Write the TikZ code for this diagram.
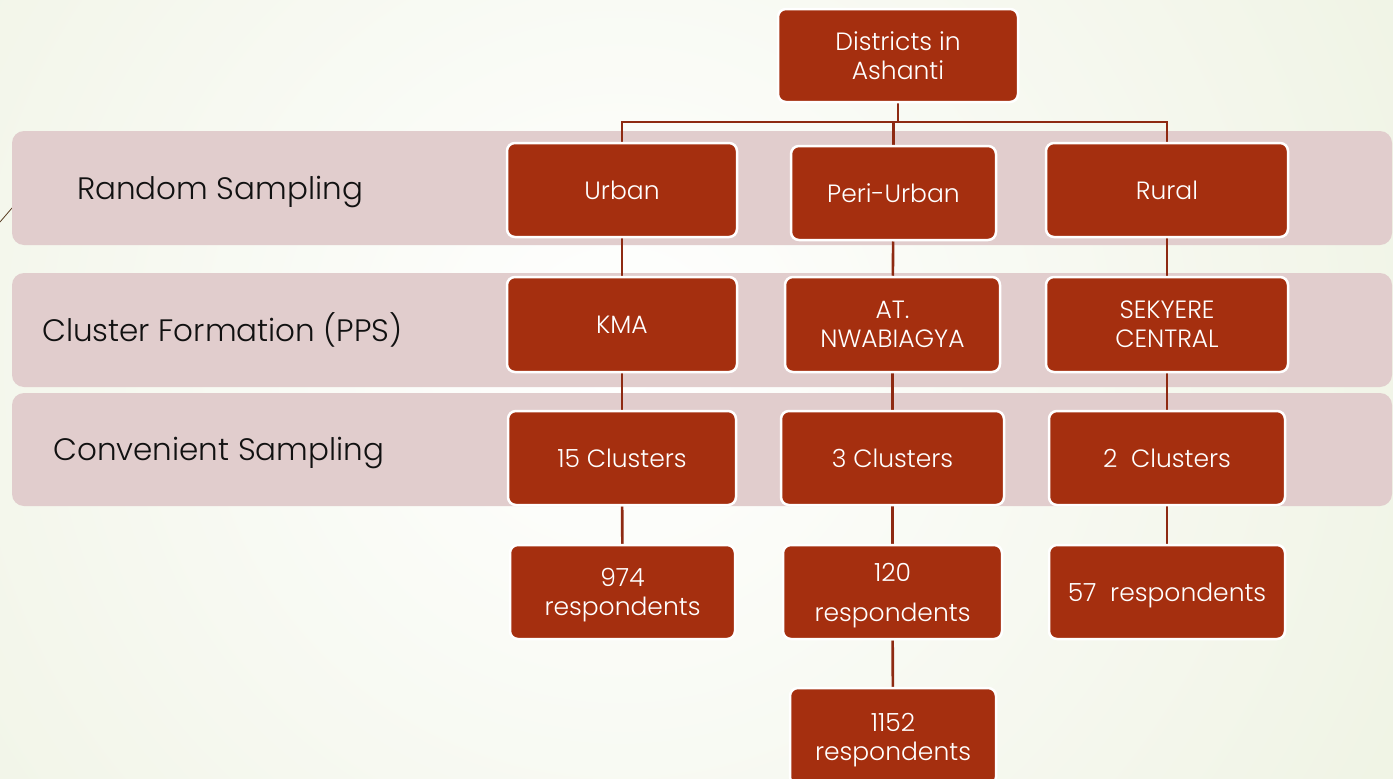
\documentclass[tikz,border=0pt]{standalone}
\usepackage{fontspec}
\setmainfont{Poppins}[UprightFont={* Light}]
\pgfdeclarelayer{back}
\pgfdeclarelayer{mid}
\pgfsetlayers{back,mid,main}
\definecolor{bggreen}{HTML}{E3EACF}
\definecolor{bandpink}{HTML}{E1CDCD}
\definecolor{boxred}{HTML}{A52F0F}
\definecolor{connred}{HTML}{8E2A12}
\definecolor{txtdark}{HTML}{111111}
\tikzset{
  box/.style={draw=white, line width=2.5pt, fill=boxred, rounded corners=8pt,
    text=white, align=center, inner sep=2pt,
    font=\fontsize{25}{29}\selectfont},
  nodepth/.style={text depth=0pt},
  band/.style={fill=bandpink, rounded corners=12pt},
  conn/.style={draw=connred, line width=2.6pt},
  lab/.style={anchor=base west, text=txtdark, inner sep=0pt,
    font=\fontsize{31}{36}\selectfont},
}
\begin{document}
\begin{tikzpicture}[x=1pt,y=-1pt]
\useasboundingbox (0,0) rectangle (1393,779);
\begin{pgfonlayer}{back}
  \fill[bggreen] (0,0) rectangle (1393,779);
  \begin{scope}
    \clip (0,0) rectangle (1393,779);
    \shade[inner color=white, outer color=bggreen] (620,360) circle (1600);
  \end{scope}
  \draw[color=black!55!brown, line width=0.8pt] (0,222) -- (12,208);
  \fill[band] (12,131) rectangle (1392,245);
  \fill[band] (12,273) rectangle (1392,387);
  \fill[band] (12,393) rectangle (1392,506);
\end{pgfonlayer}

\node[lab] (l1) at (77,199) {Random Sampling};
\node[lab] (l2) at (42,341) {Cluster Formation (PPS)};
\node[lab] (l3) at (53,460) {Convenient Sampling};

\node[box, minimum width=240, minimum height=93] (dist) at (898,55.5) {Districts in\\Ashanti};

\node[box, minimum width=230, minimum height=94] (urban) at (622,190) {Urban};
\node[box, minimum width=205, minimum height=94] (peri) at (893.5,193) {Peri-Urban};
\node[box, minimum width=242, minimum height=94] (rural) at (1167,190) {Rural};

\node[box, minimum width=230, minimum height=95] (kma) at (622,324.5) {KMA};
\node[box, minimum width=215, minimum height=95] (atn) at (892.5,324.5) {AT.\\NWABIAGYA};
\node[box, minimum width=242, minimum height=95] (sek) at (1167,324.5) {SEKYERE\\CENTRAL};

\node[box, minimum width=228, minimum height=94] (c15) at (622,458) {15 Clusters};
\node[box, minimum width=223, minimum height=94] (c3) at (892.5,458) {3 Clusters};
\node[box, minimum width=236, minimum height=94] (c2) at (1167,458) {2\ \ Clusters};

\node[box, nodepth, minimum width=225, minimum height=94] (r974) at (622.5,592) {974\\respondents};
\node[box, nodepth, minimum width=219, minimum height=94, font=\fontsize{25}{40}\selectfont] (r120) at (892.5,592) {120\\respondents};
\node[box, nodepth, minimum width=236, minimum height=94] (r57) at (1167,592) {57\ \ respondents};

\node[box, nodepth, minimum width=206, minimum height=97] (r1152) at (893,736.5) {1152\\respondents};

\coordinate (bus) at (0,122);
\begin{pgfonlayer}{mid}
  \draw[conn] (dist.south) -- (dist.south |- bus);
  \draw[conn, line join=miter] (urban.north) -- (urban.north |- bus) -- (rural.north |- bus) -- (rural.north);
  \draw[conn] (peri.north) -- (peri.north |- bus);
  \draw[conn] (urban) -- (kma);
  \draw[conn] (kma) -- (c15);
  \draw[conn] (c15) -- (r974);
  \draw[conn] (peri) -- (atn);
  \draw[conn] (atn) -- (c3);
  \draw[conn] (c3) -- (r120);
  \draw[conn] (r120) -- (r1152);
  \draw[conn] (rural) -- (sek);
  \draw[conn] (sek) -- (c2);
  \draw[conn] (c2) -- (r57);
\end{pgfonlayer}
\end{tikzpicture}
\end{document}
